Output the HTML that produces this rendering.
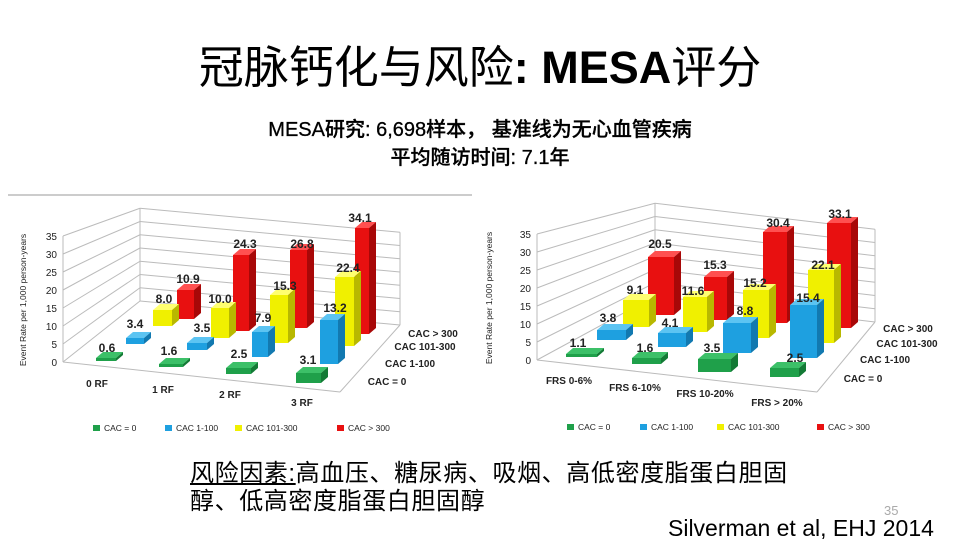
<!DOCTYPE html>
<html><head><meta charset="utf-8">
<style>
html,body{margin:0;padding:0;background:#fff;}
body{width:960px;height:540px;position:relative;overflow:hidden;font-family:"Liberation Sans","Noto Sans CJK SC",sans-serif;}
.t{position:absolute;white-space:nowrap;color:#000;}
</style></head><body>
<div class="t" style="left:0;width:960px;text-align:center;top:38px;font-size:45px;line-height:60px;">冠脉钙化与风险<b>: MESA</b>评分</div>
<div class="t" style="left:0;width:960px;text-align:center;top:117px;font-size:20px;line-height:26px;font-weight:500;-webkit-text-stroke:0.3px #000;">MESA研究: 6,698样本， 基准线为无心血管疾病</div>
<div class="t" style="left:0;width:960px;text-align:center;top:145px;font-size:20px;line-height:26px;font-weight:500;-webkit-text-stroke:0.3px #000;">平均随访时间: 7.1年</div>
<div class="t" style="left:190px;top:459px;font-size:24px;line-height:30px;letter-spacing:0.6px;"><u>风险因素:</u>高血压、糖尿病、吸烟、高低密度脂蛋白胆固</div>
<div class="t" style="left:190px;top:487px;font-size:24px;line-height:30px;letter-spacing:0.6px;">醇、低高密度脂蛋白胆固醇</div>
<div class="t" style="left:884px;top:503px;font-size:13px;color:#aaa;">35</div>
<div class="t" style="left:668px;top:515px;font-size:23px;">Silverman et al, EHJ 2014</div>
<svg id="s" width="960" height="540" style="position:absolute;left:0;top:0" xmlns="http://www.w3.org/2000/svg"></svg>
<script>
var s=document.getElementById('s'),h='';
function P(pts,f){h+='<polygon points="'+pts.map(p=>p.join(',')).join(' ')+'" fill="'+f+'"/>';}
function L(a,b,c,d,col){h+='<line x1="'+a+'" y1="'+b+'" x2="'+c+'" y2="'+d+'" stroke="'+(col||'#bbb')+'" stroke-width="1"/>';}
function T(x,y,t,sz,w,anc,rot){h+='<text x="'+x+'" y="'+y+'" font-size="'+sz+'" font-weight="'+(w||'normal')+'" text-anchor="'+(anc||'middle')+'" fill="#222" font-family="Liberation Sans,sans-serif"'+(rot?' transform="rotate(-90 '+x+' '+y+')"':'')+'>'+t+'</text>';}
var C=[['#1fa04a','#3cc068','#137a35'],['#1ea0e0','#5cc4f2','#1279b0'],['#f0f000','#ffff70','#b8b800'],['#e81010','#ff5050','#a80808']];
function bar(b,c){var xl=b[0],xr=b[1],yt=b[2],yb=b[3],d=7,dd=6;
 if(yb-yt<dd+3)yt=yb-dd-3;
 P([[xl,yt+dd],[xl+d,yt],[xr,yt],[xr-d,yt+dd]],C[c][1]);
 P([[xr-d,yt+dd],[xr,yt],[xr,yb-dd],[xr-d,yb]],C[c][2]);
 P([[xl,yt+dd],[xr-d,yt+dd],[xr-d,yb],[xl,yb]],C[c][0]);}
function chart(o){
 for(var i=0;i<=7;i++){var v=i*5;var yl=o.y0-v*o.sf,yb=o.bl0-v*o.sb,yr=o.br0-v*o.sb;
  L(o.xl,yl,o.xbl,yb);L(o.xbl,yb,o.xbr,yr);T(o.xl-6,yl+4,v,10,'normal','end');}
 L(o.xl,o.y0,o.xl,o.y0-35*o.sf);L(o.xbl,o.bl0,o.xbl,o.bl0-35*o.sb);
 L(o.xl,o.y0,o.fr[0],o.fr[1]);L(o.fr[0],o.fr[1],o.xbr,o.br0);L(o.xbr,o.br0,o.xbr,o.br0-35*o.sb);
 T(o.ytx,o.yty,'Event Rate per 1,000 person-years',8.5,'normal','middle',1);
 var ord=[3,2,1,0];
 for(var k=0;k<4;k++){var j=ord[k];for(var i=0;i<4;i++)bar(o.bars[j][i],j);}
 o.lab.forEach(l=>T(l[0],l[1]+5,l[2],12,'bold'));
 o.cat.forEach(l=>T(l[0],l[1]+4,l[2],10,'bold'));
 o.ser.forEach(l=>T(l[0],l[1]+4,l[2],10,'bold'));
 var names=['CAC = 0','CAC 1-100','CAC 101-300','CAC &gt; 300'];
 o.leg.forEach((x,i)=>{h+='<rect x="'+x+'" y="'+(o.ly-3)+'" width="7" height="6" fill="'+C[i][0]+'"/>';T(x+11,o.ly+3,names[i],8.5,'normal','start');});
}
L(8,195,472,195,'#999');
chart({xl:63,y0:362,sf:3.6,xbl:140,bl0:301,sb:2.65,xbr:400,br0:325,fr:[340,392],ytx:26,yty:300,
 bars:[[[96,123,356,361],[159,190,359,367],[226,258,362,374],[296,328,367,383]],
       [[126,151,332,344],[187,214,337,350],[252,275,326,357],[320,345,314,364]],
       [[153,179,304,326],[211,236,302,338],[270,295,289,343],[335,361,271,346]],
       [[177,201,284,319],[233,256,249,331],[290,314,244,328],[355,376,222,334]]],
 lab:[[107,347,'0.6'],[135,323,'3.4'],[164,298,'8.0'],[188,278,'10.9'],[169,350,'1.6'],[202,327,'3.5'],[220,298,'10.0'],[245,243,'24.3'],[239,353,'2.5'],[263,317,'7.9'],[285,285,'15.3'],[302,243,'26.8'],[308,359,'3.1'],[335,307,'13.2'],[348,267,'22.4'],[360,217,'34.1']],
 cat:[[97,383,'0 RF'],[163,389,'1 RF'],[230,394,'2 RF'],[302,402,'3 RF']],
 ser:[[433,333,'CAC &gt; 300'],[425,346,'CAC 101-300'],[410,363,'CAC 1-100'],[387,381,'CAC = 0']],
 leg:[93,165,235,337],ly:428});
chart({xl:537,y0:360,sf:3.6,xbl:655,bl0:296,sb:2.65,xbr:875,br0:322,fr:[817,392],ytx:492,yty:298,
 bars:[[[566,604,349,357],[632,668,352,364],[698,738,353,372],[770,806,362,377]],
       [[597,633,324,340],[658,693,327,347],[723,758,317,353],[790,824,299,358]],
       [[623,656,294,327],[683,714,291,332],[743,776,284,338],[808,841,264,343]],
       [[648,681,251,315],[704,734,271,320],[763,794,226,323],[827,858,217,328]]],
 lab:[[578,342,'1.1'],[608,317,'3.8'],[635,289,'9.1'],[660,243,'20.5'],[645,347,'1.6'],[670,322,'4.1'],[693,290,'11.6'],[715,264,'15.3'],[712,347,'3.5'],[745,310,'8.8'],[755,282,'15.2'],[778,222,'30.4'],[795,357,'2.5'],[808,297,'15.4'],[823,264,'22.1'],[840,213,'33.1']],
 cat:[[569,380,'FRS 0-6%'],[635,387,'FRS 6-10%'],[705,393,'FRS 10-20%'],[777,402,'FRS &gt; 20%']],
 ser:[[908,328,'CAC &gt; 300'],[907,343,'CAC 101-300'],[885,359,'CAC 1-100'],[863,378,'CAC = 0']],
 leg:[567,640,717,817],ly:427});
s.innerHTML=h;
</script>
</body></html>
